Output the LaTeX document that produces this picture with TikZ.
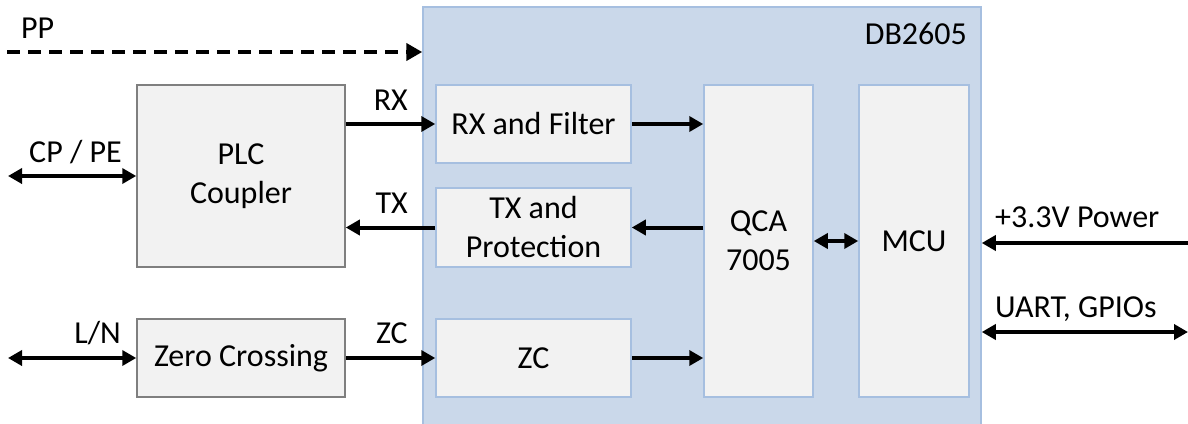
\documentclass[tikz,border=0pt]{standalone}
\usepackage{fontspec}
\setmainfont{Carlito}
\usetikzlibrary{arrows.meta}
\definecolor{dbfill}{HTML}{CAD8EA}
\definecolor{dbline}{HTML}{A6BFE0}
\definecolor{boxfill}{HTML}{F2F2F2}
\definecolor{plcline}{HTML}{7F7F7F}
\begin{document}
\begin{tikzpicture}[x=1pt,y=-1pt,
  every node/.style={font=\fontsize{32}{39}\selectfont, inner sep=0pt, text=black},
  blk/.style={draw=dbline, fill=boxfill, line width=1.5pt, align=center},
  outerblk/.style={draw=plcline, fill=boxfill, line width=1.5pt, align=center},
  arr/.style={line width=4pt, -{Triangle[length=14pt,width=15pt]}},
  darr/.style={line width=4pt, {Triangle[length=14pt,width=15pt]}-{Triangle[length=14pt,width=15pt]}},
  dasharr/.style={line width=4pt, dash pattern=on 13pt off 8pt, -{Triangle[length=16pt,width=17pt]}}]
\useasboundingbox (0,0) rectangle (1188,423);
% DB2605 board
\node[draw=dbline, fill=dbfill, line width=1.5pt, minimum width=558pt, minimum height=423pt] (db) at (702,218.5) {};
\node[anchor=base east] (dbl) at (967,44) {DB2605};
% external blocks
\node[outerblk, minimum width=208pt, minimum height=182pt] (plc) at (241,176) {PLC\\Coupler};
\node[outerblk, minimum width=208pt, minimum height=78pt] (zx) at (241,358) {Zero Crossing};
% inner blocks
\node[blk, minimum width=195pt, minimum height=78pt] (rxf) at (533.5,124) {RX and Filter};
\node[blk, minimum width=195pt, minimum height=79pt] (txp) at (533.5,227.5) {TX and\\Protection};
\node[blk, minimum width=195pt, minimum height=78pt] (zc) at (533.5,358) {ZC};
\node[blk, minimum width=109pt, minimum height=312pt] (qca) at (758.5,241) {QCA\\7005};
\node[blk, minimum width=110pt, minimum height=312pt] (mcu) at (914,241) {MCU};
% free ends
\coordinate (ppL) at (7,52);
\coordinate (cpL) at (8,176);
\coordinate (lnL) at (8,358);
\coordinate (pwR) at (1188,243);
\coordinate (uaR) at (1188,332);
% connectors
\draw[dasharr] (ppL) -- (db.west |- ppL);
\draw[darr] (cpL) -- (plc.west);
\draw[darr] (lnL) -- (zx.west);
\draw[arr] (plc.east |- rxf) -- (rxf.west);
\draw[arr] (txp.west) -- (plc.east |- txp);
\draw[arr] (zx.east) -- (zc.west);
\draw[arr] (rxf.east) -- (qca.west |- rxf);
\draw[arr] (qca.west |- txp) -- (txp.east);
\draw[arr] (zc.east) -- (qca.west |- zc);
\draw[darr] (qca.east) -- (mcu.west);
\draw[arr] (pwR) -- (db.east |- pwR);
\draw[darr] (db.east |- uaR) -- (uaR);
% labels
\node[anchor=base west] (ppt) at (21,38) {PP};
\node[anchor=base west] (cpt) at (29,162) {CP / PE};
\node[anchor=base east] (lnt) at (121,343) {L/N};
\node[anchor=base east] (rxt) at (408,110) {RX};
\node[anchor=base east] (txt) at (408,213) {TX};
\node[anchor=base east] (zct) at (408,343) {ZC};
\node[anchor=base west] (pwt) at (995,227) {+3.3V Power};
\node[anchor=base west] (uat) at (995,317) {UART, GPIOs};
\end{tikzpicture}
\end{document}
